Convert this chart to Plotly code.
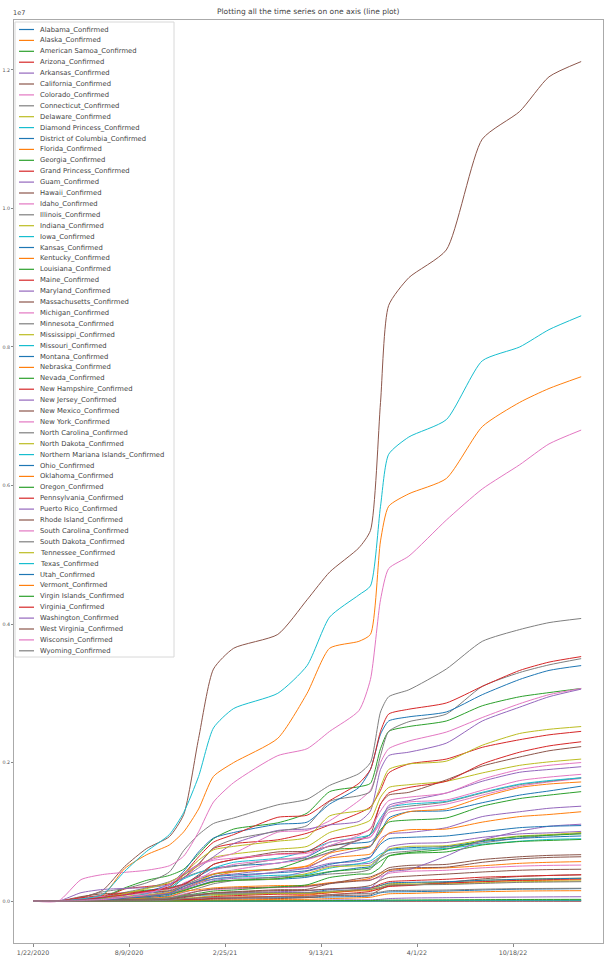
import plotly.graph_objects as go
import pandas as pd

# ---------------- data (cumulative confirmed cases, thousands) ----------------
DATES = ["2020-01-22", "2020-03-15", "2020-05-01", "2020-06-15", "2020-07-31", "2020-09-15",
         "2020-11-01", "2020-12-01", "2021-01-01", "2021-02-01", "2021-03-15", "2021-06-15",
         "2021-08-15", "2021-10-01", "2021-12-01", "2021-12-25", "2022-01-15", "2022-02-01",
         "2022-03-15", "2022-06-01", "2022-08-15", "2022-11-01", "2023-01-01", "2023-03-09"]

TICK_DATES = ["2020-01-22", "2020-08-09", "2021-02-25", "2021-09-13", "2022-04-01", "2022-10-18"]
TICK_LABELS = ["1/22/2020", "8/9/2020", "2/25/21", "9/13/21", "4/1/22", "10/18/22"]

Y_TICKS = [0, 2e6, 4e6, 6e6, 8e6, 10e6, 12e6]
Y_TICK_LABELS = ["0.0", "0.2", "0.4", "0.6", "0.8", "1.0", "1.2"]

NAMES = ["Alabama", "Alaska", "American Samoa", "Arizona", "Arkansas", "California", "Colorado",
         "Connecticut", "Delaware", "Diamond Princess", "District of Columbia", "Florida", "Georgia",
         "Grand Princess", "Guam", "Hawaii", "Idaho", "Illinois", "Indiana", "Iowa", "Kansas",
         "Kentucky", "Louisiana", "Maine", "Maryland", "Massachusetts", "Michigan", "Minnesota",
         "Mississippi", "Missouri", "Montana", "Nebraska", "Nevada", "New Hampshire", "New Jersey",
         "New Mexico", "New York", "North Carolina", "North Dakota", "Northern Mariana Islands",
         "Ohio", "Oklahoma", "Oregon", "Pennsylvania", "Puerto Rico", "Rhode Island",
         "South Carolina", "South Dakota", "Tennessee", "Texas", "Utah", "Vermont",
         "Virgin Islands", "Virginia", "Washington", "West Virginia", "Wisconsin", "Wyoming"]

alabama = [0, 0, 7, 27, 87, 143, 193, 250, 362, 472, 510, 548, 640, 800, 840, 860, 1000, 1200, 1290, 1305, 1420, 1530, 1590, 1659]
alaska = [0, 0, 0.4, 0.7, 3.5, 6.5, 15, 32, 47, 53, 60, 67, 85, 120, 147, 151, 175, 220, 237, 255, 280, 295, 300, 308]
american_samoa = [0, 0, 0, 0, 0, 0, 0, 0, 0, 0, 0, 0, 0, 0, 0, 0, 0, 0.1, 4.5, 6.0, 7.0, 8.0, 8.2, 8.3]
arizona = [0, 0, 8, 40, 175, 210, 250, 340, 530, 760, 830, 885, 980, 1100, 1270, 1360, 1600, 1850, 1980, 2050, 2220, 2330, 2400, 2450]
arkansas = [0, 0, 3.5, 13, 43, 72, 110, 155, 225, 295, 328, 345, 430, 505, 535, 550, 650, 780, 830, 845, 920, 970, 985, 1006]
california = [0, 0.3, 52, 155, 500, 760, 930, 1250, 2350, 3350, 3650, 3850, 4350, 4750, 5100, 5350, 7200, 8600, 9000, 9400, 11000, 11400, 11900, 12120]
colorado = [0, 0, 15, 30, 47, 65, 115, 260, 340, 395, 450, 550, 600, 700, 880, 930, 1120, 1280, 1330, 1400, 1530, 1660, 1720, 1770]
connecticut = [0, 0, 28, 45, 50, 56, 70, 127, 186, 250, 295, 350, 360, 390, 420, 460, 630, 690, 720, 780, 840, 910, 950, 980]
delaware = [0, 0, 4.9, 10.5, 14.8, 18.5, 24, 37, 58, 77, 91, 110, 111, 135, 155, 165, 225, 250, 258, 275, 300, 315, 325, 330]
diamond_princess = [0, 0.046, 0.049, 0.049, 0.049, 0.049, 0.049, 0.049, 0.049, 0.049, 0.049, 0.049, 0.049, 0.049, 0.049, 0.049, 0.049, 0.049, 0.049, 0.049, 0.049, 0.049, 0.049, 0.049]
district_of_columbia = [0, 0, 4.7, 9.7, 12.1, 14.3, 17, 22, 29, 36, 42, 49, 52, 59, 66, 76, 120, 132, 135, 145, 160, 172, 175, 180]
florida = [0, 0.1, 35, 77, 470, 670, 810, 1000, 1330, 1800, 2000, 2350, 3000, 3650, 3750, 3850, 5200, 5700, 5880, 6100, 6850, 7200, 7400, 7570]
georgia = [0, 0, 28, 60, 190, 300, 370, 460, 680, 900, 1040, 1130, 1270, 1580, 1650, 1700, 2200, 2450, 2520, 2600, 2820, 2950, 3010, 3070]
grand_princess = [0, 0.02, 0.1, 0.1, 0.1, 0.1, 0.1, 0.1, 0.1, 0.1, 0.1, 0.1, 0.1, 0.1, 0.1, 0.1, 0.1, 0.1, 0.1, 0.1, 0.1, 0.1, 0.1, 0.1]
guam = [0, 0, 0.15, 0.2, 0.4, 2.0, 4.8, 7.1, 7.4, 7.7, 7.9, 8.3, 8.8, 16, 17.5, 18, 25, 36, 44, 49, 54, 58, 61, 63]
hawaii = [0, 0, 0.6, 0.7, 2.4, 11, 15, 18.6, 22, 26, 28.5, 36, 50, 78, 86, 90, 170, 215, 230, 270, 320, 355, 370, 380]
idaho = [0, 0, 2, 3.5, 21, 37, 56, 104, 145, 165, 178, 195, 205, 260, 300, 310, 350, 400, 430, 445, 480, 505, 515, 520]
illinois = [0, 0, 52, 133, 180, 265, 420, 730, 960, 1120, 1200, 1390, 1470, 1670, 1840, 2000, 2730, 2950, 3050, 3350, 3750, 3920, 4020, 4080]
indiana = [0, 0, 19, 40, 66, 105, 175, 370, 510, 630, 680, 750, 790, 990, 1100, 1170, 1500, 1640, 1680, 1730, 1850, 1960, 2010, 2050]
iowa = [0, 0, 7.5, 25, 44, 75, 125, 230, 280, 315, 345, 373, 385, 475, 540, 580, 680, 730, 750, 760, 820, 865, 890, 900]
kansas = [0, 0, 4.5, 11, 30, 50, 85, 160, 225, 280, 300, 315, 345, 420, 480, 500, 640, 740, 770, 790, 860, 905, 925, 940]
kentucky = [0, 0, 4.8, 13, 32, 58, 104, 180, 265, 350, 420, 460, 510, 690, 770, 800, 980, 1170, 1290, 1330, 1500, 1640, 1690, 1720]
louisiana = [0, 0.1, 29, 49, 120, 158, 180, 230, 315, 385, 430, 470, 610, 740, 765, 785, 1030, 1140, 1170, 1200, 1370, 1480, 1530, 1580]
maine = [0, 0, 1.1, 2.9, 3.9, 4.8, 6.0, 11, 25, 40, 47, 68, 70, 93, 122, 140, 185, 210, 225, 260, 280, 300, 310, 320]
maryland = [0, 0, 23, 62, 90, 117, 145, 190, 277, 360, 390, 462, 470, 545, 575, 630, 900, 970, 990, 1060, 1220, 1290, 1340, 1370]
massachusetts = [0, 0, 64, 106, 117, 124, 150, 230, 380, 530, 600, 710, 720, 790, 880, 970, 1400, 1530, 1570, 1750, 1950, 2080, 2170, 2230]
michigan = [0, 0, 42, 66, 90, 125, 200, 400, 530, 610, 690, 995, 1020, 1160, 1450, 1600, 2000, 2200, 2310, 2440, 2650, 2850, 2980, 3070]
minnesota = [0, 0, 5.1, 31, 54, 85, 150, 335, 415, 465, 500, 605, 615, 705, 890, 960, 1150, 1320, 1370, 1430, 1560, 1680, 1730, 1780]
mississippi = [0, 0, 7, 21, 63, 90, 120, 160, 215, 275, 300, 320, 400, 490, 510, 520, 650, 750, 790, 800, 880, 940, 960, 990]
missouri = [0, 0, 8, 16, 52, 105, 195, 320, 410, 480, 560, 620, 720, 850, 920, 960, 1200, 1350, 1400, 1440, 1570, 1690, 1740, 1780]
montana = [0, 0, 0.45, 0.6, 4.1, 9.5, 33, 65, 82, 93, 101, 112, 118, 165, 190, 195, 225, 260, 270, 280, 300, 315, 322, 330]
nebraska = [0, 0, 5.6, 17, 27, 38, 65, 140, 165, 190, 205, 224, 227, 265, 300, 330, 400, 440, 465, 480, 510, 545, 560, 570]
nevada = [0, 0, 5.3, 12, 50, 75, 100, 150, 220, 280, 300, 325, 370, 425, 460, 480, 580, 650, 690, 710, 810, 860, 875, 890]
new_hampshire = [0, 0, 2.1, 5.4, 6.6, 7.6, 11, 22, 45, 64, 78, 99, 101, 122, 160, 185, 245, 280, 295, 315, 345, 360, 370, 380]
new_jersey = [0, 0.1, 121, 168, 183, 196, 235, 340, 480, 640, 830, 1020, 1040, 1100, 1150, 1300, 1900, 2100, 2150, 2280, 2600, 2800, 2950, 3060]
new_mexico = [0, 0, 3.4, 9.8, 21, 27, 40, 90, 143, 176, 190, 203, 215, 255, 325, 350, 410, 480, 515, 530, 600, 640, 660, 670]
new_york = [0, 0.7, 310, 383, 415, 445, 510, 650, 1000, 1430, 1710, 2100, 2200, 2450, 2750, 3200, 4350, 4800, 4980, 5500, 5950, 6300, 6600, 6800]
north_carolina = [0, 0, 11, 47, 125, 190, 280, 380, 540, 770, 890, 1010, 1090, 1440, 1520, 1580, 2100, 2450, 2590, 2700, 3100, 3300, 3410, 3500]
north_dakota = [0, 0, 1.1, 3.2, 7, 17, 45, 85, 93, 98, 102, 111, 113, 130, 165, 170, 200, 235, 240, 245, 265, 280, 285, 290]
northern_mariana = [0, 0, 0.014, 0.03, 0.04, 0.07, 0.09, 0.11, 0.12, 0.13, 0.15, 0.18, 0.2, 0.25, 0.3, 0.33, 1.0, 4.0, 8.0, 11.0, 12.5, 13.3, 13.6, 13.9]
ohio = [0, 0, 19, 42, 93, 145, 235, 430, 710, 910, 990, 1110, 1140, 1400, 1640, 1900, 2410, 2600, 2660, 2730, 2980, 3200, 3330, 3400]
oklahoma = [0, 0, 3.8, 9.4, 40, 75, 125, 210, 290, 390, 430, 455, 500, 620, 660, 680, 850, 980, 1030, 1040, 1140, 1220, 1250, 1290]
oregon = [0, 0, 2.5, 6, 18, 29, 46, 78, 112, 145, 160, 205, 235, 340, 390, 395, 490, 650, 700, 750, 870, 930, 950, 970]
pennsylvania = [0, 0, 48, 83, 115, 145, 210, 390, 640, 850, 960, 1210, 1240, 1450, 1700, 1900, 2450, 2700, 2770, 2860, 3100, 3330, 3450, 3530]
puerto_rico = [0, 0, 1.6, 6, 15, 25, 40, 60, 95, 110, 120, 135, 150, 175, 180, 190, 320, 420, 455, 650, 880, 1010, 1080, 1110]
rhode_island = [0, 0, 8.3, 16, 19, 23, 33, 62, 90, 115, 130, 152, 155, 175, 200, 225, 300, 340, 360, 390, 420, 445, 455, 460]
south_carolina = [0, 0, 6.3, 19, 90, 130, 175, 225, 310, 440, 530, 600, 650, 850, 900, 920, 1170, 1350, 1430, 1460, 1600, 1740, 1790, 1830]
south_dakota = [0, 0, 2.5, 6, 8.7, 18, 45, 85, 100, 108, 116, 124, 125, 145, 165, 170, 195, 230, 235, 240, 255, 270, 275, 280]
tennessee = [0, 0, 11, 33, 110, 180, 270, 400, 590, 740, 790, 865, 920, 1230, 1300, 1340, 1650, 1900, 1980, 2020, 2250, 2420, 2480, 2520]
texas = [0, 0.06, 29, 95, 430, 720, 960, 1280, 1800, 2500, 2780, 3000, 3400, 4100, 4420, 4550, 5700, 6450, 6700, 6950, 7800, 8000, 8250, 8450]
utah = [0, 0, 5, 15, 40, 62, 110, 210, 290, 350, 375, 410, 440, 530, 600, 640, 820, 900, 920, 940, 1000, 1060, 1080, 1090]
vermont = [0, 0, 0.9, 1.1, 1.4, 1.7, 2.2, 4.3, 7.4, 12.5, 17, 24, 25.5, 36, 47, 55, 85, 105, 110, 125, 135, 145, 148, 150]
virgin_islands = [0, 0, 0.07, 0.08, 0.4, 1.2, 1.4, 1.8, 2.1, 2.5, 2.7, 3.4, 5.6, 6.8, 7.2, 7.5, 13, 15, 16, 18, 21, 23, 24, 25]
virginia = [0, 0, 16, 55, 90, 140, 185, 245, 350, 530, 600, 680, 710, 890, 970, 1040, 1400, 1560, 1640, 1730, 1980, 2150, 2240, 2300]
washington = [0, 0.6, 14, 26, 58, 80, 110, 175, 250, 320, 350, 420, 480, 640, 740, 790, 1100, 1380, 1450, 1560, 1730, 1860, 1900, 1940]
west_virginia = [0, 0, 1.1, 2.4, 6.8, 13, 24, 50, 85, 120, 135, 164, 170, 250, 290, 300, 370, 450, 480, 490, 560, 610, 630, 640]
wisconsin = [0, 0, 7.3, 23, 55, 95, 240, 400, 520, 590, 620, 675, 690, 800, 950, 1050, 1300, 1450, 1500, 1560, 1760, 1900, 1960, 2000]
wyoming = [0, 0, 0.6, 1.1, 2.8, 4.4, 12, 35, 45, 52, 55, 61, 65, 90, 110, 113, 130, 150, 155, 160, 172, 180, 183, 185]

SERIES = [alabama, alaska, american_samoa, arizona, arkansas, california, colorado, connecticut,
          delaware, diamond_princess, district_of_columbia, florida, georgia, grand_princess, guam,
          hawaii, idaho, illinois, indiana, iowa, kansas, kentucky, louisiana, maine, maryland,
          massachusetts, michigan, minnesota, mississippi, missouri, montana, nebraska, nevada,
          new_hampshire, new_jersey, new_mexico, new_york, north_carolina, north_dakota,
          northern_mariana, ohio, oklahoma, oregon, pennsylvania, puerto_rico, rhode_island,
          south_carolina, south_dakota, tennessee, texas, utah, vermont, virgin_islands, virginia,
          washington, west_virginia, wisconsin, wyoming]

TAB10 = ["#1f77b4", "#ff7f0e", "#2ca02c", "#d62728", "#9467bd",
         "#8c564b", "#e377c2", "#7f7f7f", "#bcbd22", "#17becf"]

# ---------------- layout geometry (pixels) ----------------
W, H = 607, 962
ML, MR, MT, MB = 14, 4, 20, 19
PW, PH = W - ML - MR, H - MT - MB


def px_x(px):
    return (px - ML) / PW


def px_y(py):
    return 1 - (py - MT) / PH


FONT = "DejaVu Sans"
x_dates = pd.to_datetime(DATES)

fig = go.Figure()
for i, (name, vals) in enumerate(zip(NAMES, SERIES)):
    fig.add_trace(go.Scatter(
        x=x_dates, y=[v * 1000 for v in vals], mode="lines",
        name=name + "_Confirmed", showlegend=False,
        line=dict(color=TAB10[i % 10], width=1, shape="spline", smoothing=0.6),
    ))

# x range chosen so the first tick sits at ~33 px and 200 days span ~96 px
d0 = pd.Timestamp(DATES[0])
x_range = [d0 - pd.Timedelta(days=39.6), d0 + pd.Timedelta(days=1187.5)]

shapes = []
annotations = []

# custom legend (matplotlib style)
LEG_TOP, LEG_BOT, LEG_L, LEG_R = 22, 657, 15, 174
shapes.append(dict(type="rect", xref="paper", yref="paper",
                   x0=px_x(LEG_L), x1=px_x(LEG_R), y0=px_y(LEG_BOT), y1=px_y(LEG_TOP),
                   line=dict(color="#d8d8d8", width=1), fillcolor="rgba(255,255,255,0.85)",
                   layer="above"))
ROW0, ROWH = 29.5, 10.9
for i, name in enumerate(NAMES):
    yy = px_y(ROW0 + i * ROWH)
    shapes.append(dict(type="line", xref="paper", yref="paper",
                       x0=px_x(19), x1=px_x(34), y0=yy, y1=yy,
                       line=dict(color=TAB10[i % 10], width=1.2), layer="above"))
    annotations.append(dict(xref="paper", yref="paper", x=px_x(38), y=yy,
                            xanchor="left", yanchor="middle", showarrow=False,
                            text=name + "_Confirmed",
                            font=dict(family=FONT, size=6.8, color="#444")))

# title and offset label
annotations.append(dict(xref="paper", yref="paper", x=0.5, y=px_y(12),
                        xanchor="center", yanchor="middle", showarrow=False,
                        text="Plotting all the time series on one axis (line plot)",
                        font=dict(family=FONT, size=7.5, color="#444")))
annotations.append(dict(xref="paper", yref="paper", x=px_x(11), y=px_y(13),
                        xanchor="left", yanchor="middle", showarrow=False,
                        text="1e7", font=dict(family=FONT, size=6.5, color="#444")))

fig.update_layout(
    width=W, height=H,
    margin=dict(l=ML, r=MR, t=MT, b=MB, pad=0),
    paper_bgcolor="white", plot_bgcolor="white",
    font=dict(family=FONT, color="#444"),
    showlegend=False,
    shapes=shapes, annotations=annotations,
    xaxis=dict(range=x_range, tickvals=pd.to_datetime(TICK_DATES), ticktext=TICK_LABELS,
               ticks="outside", ticklen=3, tickcolor="#888", tickfont=dict(size=6.3, color="#555"),
               showline=True, linecolor="#aaa", linewidth=1, mirror=True,
               showgrid=False, zeroline=False, automargin=False),
    yaxis=dict(range=[-605000, 12720000], tickvals=Y_TICKS, ticktext=Y_TICK_LABELS,
               ticks="outside", ticklen=2, tickcolor="#888", tickfont=dict(size=4.8, color="#555"),
               showline=True, linecolor="#aaa", linewidth=1, mirror=True,
               showgrid=False, zeroline=False, automargin=False),
)

fig.write_html("out.html")
